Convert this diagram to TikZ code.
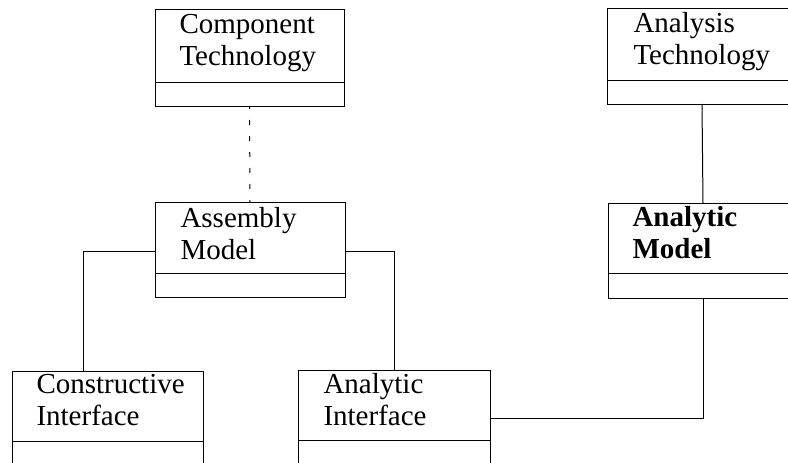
\documentclass[tikz,border=0pt]{standalone}
\usepackage{fontspec}
\setmainfont{Liberation Serif}
\begin{document}
\begin{tikzpicture}[x=1pt,y=-1pt,line width=1pt,
  umlbox/.style={draw,rectangle,inner sep=0pt,outer sep=0pt,anchor=north west,minimum width=190pt},
  umltxt/.style={anchor=north west,inner sep=0pt,align=left,font=\fontsize{29}{32}\selectfont},
  link/.style={draw,line width=1pt},
  dep/.style={draw,line width=1pt,dash pattern=on 5pt off 11pt,dash phase=2pt}]
\useasboundingbox (0,0) rectangle (788,463);
\clip (0,0) rectangle (788,463);
% boxes
\node[umlbox,minimum width=189pt,minimum height=97pt] (ct) at (155,9) {};
\node[umlbox,minimum height=96pt] (at) at (607,8) {};
\node[umlbox,minimum height=95pt] (am) at (155,202) {};
\node[umlbox,minimum height=95pt] (anm) at (608,203) {};
\node[umlbox,minimum width=191pt,minimum height=110pt] (ci) at (12,371) {};
\node[umlbox,minimum width=192pt,minimum height=110pt] (ai) at (298,370) {};
% dividers
\draw ([yshift=-73pt]ct.north west) -- ([yshift=-73pt]ct.north east);
\draw ([yshift=-72pt]at.north west) -- ([yshift=-72pt]at.north east);
\draw ([yshift=-71pt]am.north west) -- ([yshift=-71pt]am.north east);
\draw ([yshift=-70pt]anm.north west) -- ([yshift=-70pt]anm.north east);
\draw ([yshift=-70pt]ci.north west) -- ([yshift=-70pt]ci.north east);
\draw ([yshift=-70pt]ai.north west) -- ([yshift=-70pt]ai.north east);
% texts
\node[umltxt] (ctt) at ([shift={(24,2)}]ct.north west) {\strut Component\\Technology};
\node[umltxt] (att) at ([shift={(26,2)}]at.north west) {\strut Analysis\\Technology};
\node[umltxt] (amt) at ([shift={(25,3)}]am.north west) {\strut Assembly\\Model};
\node[umltxt,font=\fontsize{29}{32}\selectfont\bfseries] (anmt) at ([shift={(24,1)}]anm.north west) {\strut Analytic\\Model};
\node[umltxt] (cit) at ([shift={(24,0)}]ci.north west) {\strut Constructive\\Interface};
\node[umltxt] (ait) at ([shift={(25,1)}]ai.north west) {\strut Analytic\\Interface};
% connectors
\coordinate (c1) at (83,251);
\coordinate (c2) at (703,418);
\draw[dep] (ct.south) -- (am.north);
\draw[link] (at.south) -- (anm.north);
\draw[link] (am.west |- c1) -| (ci.north -| c1);
\draw[link] (am.east |- c1) -| (ai.north);
\draw[link] (anm.south -| c2) |- (ai.east |- c2);
\end{tikzpicture}
\end{document}
